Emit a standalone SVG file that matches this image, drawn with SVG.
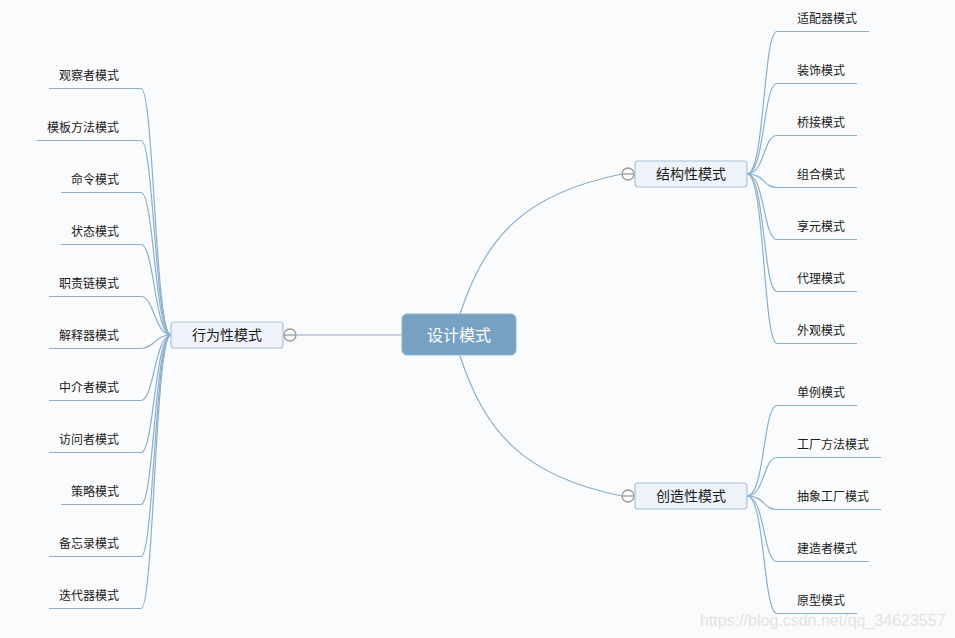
<svg xmlns="http://www.w3.org/2000/svg" width="955" height="638" viewBox="0 0 955 638">
<style>
.bg{fill:#fafbfc}
.conn path{fill:none;stroke:#8aafcb;stroke-width:1.2}
.ul{stroke:#8aafcb;stroke-width:1.2}
.leaf{font-family:"Noto Sans CJK SC","Liberation Sans",sans-serif;font-size:12px;fill:#1a1a1a}
.lt{text-anchor:end}
.br rect{fill:#edf3f8;stroke:#a9c4d9;stroke-width:1.2}
.br text{font-family:"Noto Sans CJK SC","Liberation Sans",sans-serif;font-size:14px;fill:#1a1a1a;text-anchor:middle}
.fold circle{fill:#fafbfc;stroke:#9a9a9a;stroke-width:1.3}
.fold line{stroke:#9a9a9a;stroke-width:1.3}
</style>
<rect class="bg" x="0" y="0" width="955" height="638"/>
<g id="connectors" class="conn">
<path d="M402,335 H296"/>
<path d="M460,314 C485,239 522,194 622,174"/>
<path d="M460,356 C485,431 522,476 622,496"/>
<path d="M171,335 C155,335 154,88.5 141,88.5"/>
<path d="M171,335 C155,335 154,140.5 141,140.5"/>
<path d="M171,335 C155,335 154,192.5 141,192.5"/>
<path d="M171,335 C155,335 154,244.5 141,244.5"/>
<path d="M171,335 C155,335 154,296.5 141,296.5"/>
<path d="M171,335 C155,335 154,348.5 141,348.5"/>
<path d="M171,335 C155,335 154,400.5 141,400.5"/>
<path d="M171,335 C155,335 154,452.5 141,452.5"/>
<path d="M171,335 C155,335 154,504.5 141,504.5"/>
<path d="M171,335 C155,335 154,556.5 141,556.5"/>
<path d="M171,335 C155,335 154,608.5 141,608.5"/>
<path d="M747,174 C765,174 763,31.5 777,31.5"/>
<path d="M747,174 C765,174 763,83.5 777,83.5"/>
<path d="M747,174 C765,174 763,135.5 777,135.5"/>
<path d="M747,174 C765,174 763,187.5 777,187.5"/>
<path d="M747,174 C765,174 763,239.5 777,239.5"/>
<path d="M747,174 C765,174 763,291.5 777,291.5"/>
<path d="M747,174 C765,174 763,343.5 777,343.5"/>
<path d="M747,496 C765,496 763,405.5 777,405.5"/>
<path d="M747,496 C765,496 763,457.5 777,457.5"/>
<path d="M747,496 C765,496 763,509.5 777,509.5"/>
<path d="M747,496 C765,496 763,561.5 777,561.5"/>
<path d="M747,496 C765,496 763,613.5 777,613.5"/>
</g>
<g id="root">
<rect x="402" y="314" width="114" height="41" rx="5" fill="#76a1c2" stroke="#8fb3cf" stroke-width="1"/>
<text x="459" y="340.5" font-family="Noto Sans CJK SC, Liberation Sans, sans-serif" font-size="16" fill="#ffffff" text-anchor="middle">设计模式</text>
</g>
<g id="behavioral" class="br">
<rect x="171" y="322" width="112" height="26" rx="3"/>
<text x="227" y="340">行为性模式</text>
<g class="fold"><circle cx="290" cy="335" r="6"/><line x1="284" y1="335" x2="296" y2="335"/></g>
</g>
<g id="structural" class="br">
<rect x="635" y="161" width="112" height="26" rx="3"/>
<text x="691" y="179">结构性模式</text>
<g class="fold"><circle cx="628" cy="174" r="6"/><line x1="622" y1="174" x2="634" y2="174"/></g>
</g>
<g id="creational" class="br">
<rect x="635" y="483" width="112" height="26" rx="3"/>
<text x="691" y="501">创造性模式</text>
<g class="fold"><circle cx="628" cy="496" r="6"/><line x1="622" y1="496" x2="634" y2="496"/></g>
</g>
<g id="b1"><text class="leaf lt" x="119" y="79.5">观察者模式</text><line class="ul" x1="49" y1="88.5" x2="141" y2="88.5"/></g>
<g id="b2"><text class="leaf lt" x="119" y="131.5">模板方法模式</text><line class="ul" x1="37" y1="140.5" x2="141" y2="140.5"/></g>
<g id="b3"><text class="leaf lt" x="119" y="183.5">命令模式</text><line class="ul" x1="61" y1="192.5" x2="141" y2="192.5"/></g>
<g id="b4"><text class="leaf lt" x="119" y="235.5">状态模式</text><line class="ul" x1="61" y1="244.5" x2="141" y2="244.5"/></g>
<g id="b5"><text class="leaf lt" x="119" y="287.5">职责链模式</text><line class="ul" x1="49" y1="296.5" x2="141" y2="296.5"/></g>
<g id="b6"><text class="leaf lt" x="119" y="339.5">解释器模式</text><line class="ul" x1="49" y1="348.5" x2="141" y2="348.5"/></g>
<g id="b7"><text class="leaf lt" x="119" y="391.5">中介者模式</text><line class="ul" x1="49" y1="400.5" x2="141" y2="400.5"/></g>
<g id="b8"><text class="leaf lt" x="119" y="443.5">访问者模式</text><line class="ul" x1="49" y1="452.5" x2="141" y2="452.5"/></g>
<g id="b9"><text class="leaf lt" x="119" y="495.5">策略模式</text><line class="ul" x1="61" y1="504.5" x2="141" y2="504.5"/></g>
<g id="b10"><text class="leaf lt" x="119" y="547.5">备忘录模式</text><line class="ul" x1="49" y1="556.5" x2="141" y2="556.5"/></g>
<g id="b11"><text class="leaf lt" x="119" y="599.5">迭代器模式</text><line class="ul" x1="49" y1="608.5" x2="141" y2="608.5"/></g>
<g id="s1"><text class="leaf" x="797" y="23">适配器模式</text><line class="ul" x1="777" y1="31.5" x2="869" y2="31.5"/></g>
<g id="s2"><text class="leaf" x="797" y="75">装饰模式</text><line class="ul" x1="777" y1="83.5" x2="857" y2="83.5"/></g>
<g id="s3"><text class="leaf" x="797" y="127">桥接模式</text><line class="ul" x1="777" y1="135.5" x2="857" y2="135.5"/></g>
<g id="s4"><text class="leaf" x="797" y="179">组合模式</text><line class="ul" x1="777" y1="187.5" x2="857" y2="187.5"/></g>
<g id="s5"><text class="leaf" x="797" y="231">享元模式</text><line class="ul" x1="777" y1="239.5" x2="857" y2="239.5"/></g>
<g id="s6"><text class="leaf" x="797" y="283">代理模式</text><line class="ul" x1="777" y1="291.5" x2="857" y2="291.5"/></g>
<g id="s7"><text class="leaf" x="797" y="335">外观模式</text><line class="ul" x1="777" y1="343.5" x2="857" y2="343.5"/></g>
<g id="c1"><text class="leaf" x="797" y="397">单例模式</text><line class="ul" x1="777" y1="405.5" x2="857" y2="405.5"/></g>
<g id="c2"><text class="leaf" x="797" y="449">工厂方法模式</text><line class="ul" x1="777" y1="457.5" x2="881" y2="457.5"/></g>
<g id="c3"><text class="leaf" x="797" y="501">抽象工厂模式</text><line class="ul" x1="777" y1="509.5" x2="881" y2="509.5"/></g>
<g id="c4"><text class="leaf" x="797" y="553">建造者模式</text><line class="ul" x1="777" y1="561.5" x2="869" y2="561.5"/></g>
<g id="c5"><text class="leaf" x="797" y="605">原型模式</text><line class="ul" x1="777" y1="613.5" x2="857" y2="613.5"/></g>
<text x="700" y="625.5" font-family="Liberation Sans, Arial, sans-serif" font-size="16" fill="#e3e3e3">https://blog.csdn.net/qq_34623557</text>
</svg>
